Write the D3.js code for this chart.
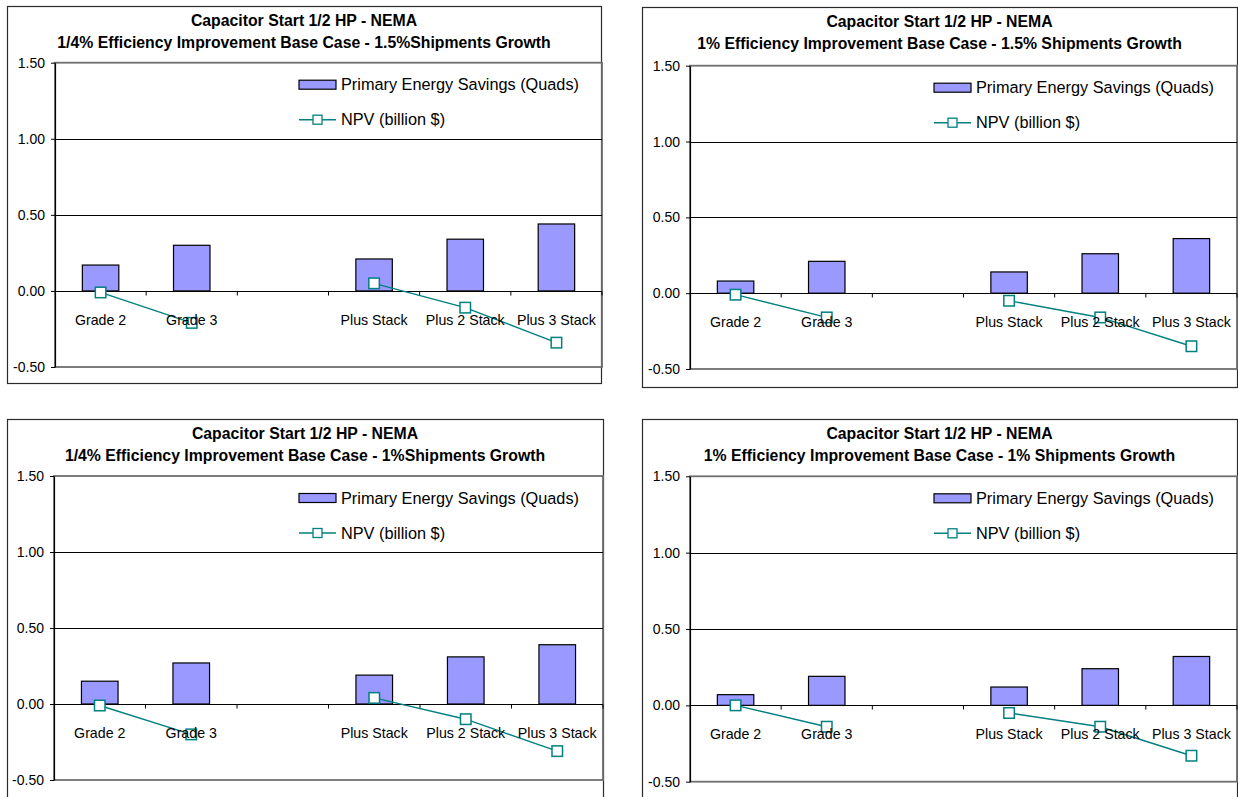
<!DOCTYPE html>
<html>
<head>
<meta charset="utf-8">
<script src="https://cdn.jsdelivr.net/npm/d3@7/dist/d3.min.js"></script>
<style>
  html, body { margin: 0; padding: 0; background: #fff; }
  svg { display: block; }
  text { font-family: "Liberation Sans", Arial, sans-serif; fill: #000; }
</style>
</head>
<body>
<svg id="chart" width="1238" height="797"></svg>
<script>
// ---------------- DATA ----------------
const categories = ["Grade 2", "Grade 3", "", "Plus Stack", "Plus 2 Stack", "Plus 3 Stack"];

const titleLine1 = ["Capacitor Start 1/2 HP - NEMA", "Capacitor Start 1/2 HP - NEMA",
                    "Capacitor Start 1/2 HP - NEMA", "Capacitor Start 1/2 HP - NEMA"];
const titleLine2 = ["1/4% Efficiency Improvement Base Case - 1.5%Shipments Growth",
                    "1% Efficiency Improvement Base Case - 1.5% Shipments Growth",
                    "1/4% Efficiency Improvement Base Case - 1%Shipments Growth",
                    "1% Efficiency Improvement Base Case - 1% Shipments Growth"];

const savingsA = [0.17, 0.30, null, 0.21, 0.34, 0.44];
const savingsB = [0.08, 0.21, null, 0.14, 0.26, 0.36];
const savingsC = [0.15, 0.27, null, 0.19, 0.31, 0.39];
const savingsD = [0.07, 0.19, null, 0.12, 0.24, 0.32];

const npvA = [-0.01, -0.21, null, 0.05, -0.11, -0.34];
const npvB = [-0.01, -0.16, null, -0.05, -0.16, -0.35];
const npvC = [-0.01, -0.20, null, 0.04, -0.10, -0.31];
const npvD = [0.00, -0.14, null, -0.05, -0.14, -0.33];

const yTickValues = [1.5, 1.0, 0.5, 0.0, -0.5];
const yTickLabels = ["1.50", "1.00", "0.50", "0.00", "-0.50"];
const yDomain = [-0.5, 1.5];

const legendLabels = ["Primary Energy Savings (Quads)", "NPV (billion $)"];

// ---------------- LAYOUT (positions only) ----------------
const layout = [
  { fx1: 7,   fy1: 6,   fx2: 601,  fy2: 383, px1: 55,  py1: 62.7, px2: 602,  py2: 367 },
  { fx1: 642, fy1: 7,   fx2: 1237, fy2: 387, px1: 690, py1: 65.7, px2: 1237, py2: 369 },
  { fx1: 7,   fy1: 419, fx2: 603,  fy2: 820, px1: 54,  py1: 476,  px2: 603,  py2: 780 },
  { fx1: 642, fy1: 419, fx2: 1237, fy2: 820, px1: 690, py1: 476.3, px2: 1237, py2: 781.7 }
];

const savingsSets = [savingsA, savingsB, savingsC, savingsD];
const npvSets = [npvA, npvB, npvC, npvD];

const BAR_FILL = "#9999FF";
const TEAL = "#008080";

const svg = d3.select("#chart");

layout.forEach((L, i) => {
  const g = svg.append("g");

  // chart frame
  g.append("rect")
    .attr("x", L.fx1 + 0.5).attr("y", L.fy1 + 0.5)
    .attr("width", L.fx2 - L.fx1).attr("height", L.fy2 - L.fy1)
    .attr("fill", "#fff").attr("stroke", "#2b2b2b").attr("stroke-width", 1.2);

  const x = d3.scaleBand().domain(categories)
    .range([L.px1, L.px2]).paddingInner(0.6).paddingOuter(0.3);
  const y = d3.scaleLinear().domain(yDomain).range([L.py2, L.py1]);

  // plot area border (gray)
  g.append("rect")
    .attr("x", L.px1).attr("y", y(1.5))
    .attr("width", L.px2 - L.px1).attr("height", y(-0.5) - y(1.5))
    .attr("fill", "none").attr("stroke", "#6e6e6e").attr("stroke-width", 1.8);

  // gridlines
  g.selectAll(".grid").data([1.0, 0.5]).enter().append("line")
    .attr("x1", L.px1).attr("x2", L.px2)
    .attr("y1", d => Math.round(y(d)) + 0.5).attr("y2", d => Math.round(y(d)) + 0.5)
    .attr("stroke", "#000").attr("stroke-width", 1);

  // bars
  const sav = savingsSets[i];
  g.selectAll(".bar").data(categories.map((c, k) => ({ c, v: sav[k] })).filter(d => d.v !== null))
    .enter().append("rect")
    .attr("x", d => x(d.c)).attr("width", x.bandwidth())
    .attr("y", d => y(Math.max(0, d.v))).attr("height", d => Math.abs(y(d.v) - y(0)))
    .attr("fill", BAR_FILL).attr("stroke", "#000").attr("stroke-width", 1.2);

  // x axis line at zero with tick marks at band boundaries
  const y0 = Math.round(y(0)) + 0.5;
  g.append("line").attr("x1", L.px1).attr("x2", L.px2).attr("y1", y0).attr("y2", y0)
    .attr("stroke", "#000").attr("stroke-width", 1.1);
  const step = x.step();
  g.selectAll(".xt").data(d3.range(1, categories.length + 1)).enter().append("line")
    .attr("x1", k => L.px1 + k * step).attr("x2", k => L.px1 + k * step)
    .attr("y1", y0).attr("y2", y0 + 4)
    .attr("stroke", "#000").attr("stroke-width", 1);

  // y axis
  const yAxis = d3.axisLeft(y).tickValues(yTickValues)
    .tickFormat((d, k) => yTickLabels[k]).tickSize(4).tickSizeOuter(0).tickPadding(6);
  const ya = g.append("g").attr("transform", `translate(${L.px1},0)`).call(yAxis);
  ya.select(".domain").attr("stroke", "#000").attr("stroke-width", 1.2);
  ya.selectAll(".tick line").attr("stroke", "#000");
  ya.selectAll("text").style("font-size", "14px").attr("fill", "#000")
    .style("font-family", '"Liberation Sans", Arial, sans-serif');

  // NPV line (broken at nulls) and markers
  const npv = npvSets[i];
  const pts = categories.map((c, k) => ({ c, v: npv[k] }));
  const line = d3.line().defined(d => d.v !== null)
    .x(d => x(d.c) + x.bandwidth() / 2).y(d => y(d.v));
  g.append("path").datum(pts).attr("d", line)
    .attr("fill", "none").attr("stroke", TEAL).attr("stroke-width", 1.4);
  const ms = 10.5;
  g.selectAll(".mk").data(pts.filter(d => d.v !== null)).enter().append("rect")
    .attr("x", d => x(d.c) + x.bandwidth() / 2 - ms / 2)
    .attr("y", d => y(d.v) - ms / 2)
    .attr("width", ms).attr("height", ms)
    .attr("fill", "#fff").attr("stroke", TEAL).attr("stroke-width", 1.5);

  // category labels
  g.selectAll(".cl").data(categories).enter().append("text")
    .attr("x", d => x(d) + x.bandwidth() / 2).attr("y", y(0) + 34)
    .attr("text-anchor", "middle").style("font-size", "14.2px").text(d => d);

  // titles
  const tcx = (L.fx1 + Math.min(L.fx2, i === 2 ? 603 : 1237)) / 2;
  g.append("text").attr("x", tcx).attr("y", L.fy1 + 20)
    .attr("text-anchor", "middle").style("font-size", "15.8px").style("font-weight", "bold")
    .text(titleLine1[i]);
  g.append("text").attr("x", tcx).attr("y", L.fy1 + 42)
    .attr("text-anchor", "middle").style("font-size", "15.8px").style("font-weight", "bold")
    .text(titleLine2[i]);

  // legend
  const lx = L.fx1 + 292;
  const r1 = L.py1 + 22, r2 = L.py1 + 57;
  g.append("rect").attr("x", lx).attr("y", r1 - 4.5).attr("width", 37).attr("height", 9)
    .attr("fill", BAR_FILL).attr("stroke", "#000").attr("stroke-width", 1.2);
  g.append("text").attr("x", lx + 42).attr("y", r1 + 5.5).style("font-size", "16.3px").text(legendLabels[0]);
  g.append("line").attr("x1", lx).attr("x2", lx + 37).attr("y1", r2).attr("y2", r2)
    .attr("stroke", TEAL).attr("stroke-width", 1.4);
  g.append("rect").attr("x", lx + 18.5 - 4.5).attr("y", r2 - 4.5).attr("width", 9).attr("height", 9)
    .attr("fill", "#fff").attr("stroke", TEAL).attr("stroke-width", 1.3);
  g.append("text").attr("x", lx + 42).attr("y", r2 + 5.5).style("font-size", "16.3px").text(legendLabels[1]);
});
</script>
</body>
</html>
